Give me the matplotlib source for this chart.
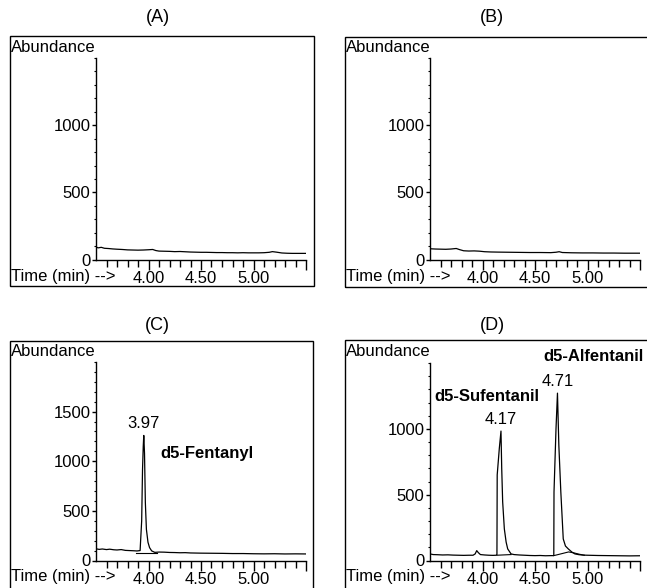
import matplotlib
matplotlib.use("Agg")
import matplotlib.pyplot as plt
from matplotlib.patches import Rectangle
from matplotlib.ticker import MultipleLocator, FixedLocator

plt.rcParams['font.family'] = ['Liberation Sans', 'DejaVu Sans']

# ---------------- data ----------------
panel_titles = ["(A)", "(B)", "(C)", "(D)"]
x_tick_values = [4.0, 4.5, 5.0]
x_tick_labels = ["4.00", "4.50", "5.00"]

time_a = [3.50, 3.52, 3.55, 3.58, 3.62, 3.66, 3.70, 3.75, 3.80, 3.85, 3.90, 3.95,
          4.00, 4.04, 4.07, 4.10, 4.15, 4.20, 4.25, 4.30, 4.35, 4.40, 4.45, 4.50,
          4.55, 4.60, 4.65, 4.70, 4.75, 4.80, 4.85, 4.90, 4.95, 5.00, 5.05, 5.10,
          5.15, 5.18, 5.22, 5.27, 5.32, 5.37, 5.42, 5.47, 5.50]
abund_a = [95, 88, 92, 85, 83, 80, 78, 76, 73, 72, 71, 72,
           74, 76, 68, 64, 63, 62, 60, 61, 59, 57, 56, 55,
           55, 54, 53, 53, 52, 52, 51, 52, 51, 51, 51, 52,
           55, 60, 56, 50, 48, 47, 47, 47, 47]

time_b = [3.50, 3.55, 3.60, 3.65, 3.70, 3.75, 3.78, 3.82, 3.87, 3.92, 3.97, 4.02,
          4.08, 4.15, 4.25, 4.35, 4.45, 4.55, 4.65, 4.70, 4.73, 4.76, 4.85, 4.95,
          5.05, 5.15, 5.25, 5.35, 5.45, 5.50]
abund_b = [80, 78, 77, 76, 78, 82, 74, 65, 63, 64, 62, 58,
           56, 55, 54, 53, 52, 52, 51, 54, 58, 52, 50, 49,
           49, 48, 48, 47, 47, 47]

time_c = [3.50, 3.53, 3.56, 3.60, 3.63, 3.67, 3.70, 3.74, 3.78, 3.82, 3.86, 3.89,
          3.92, 3.935, 3.943, 3.95, 3.955, 3.962, 3.97, 3.98, 3.995, 4.01, 4.03,
          4.06, 4.10, 4.15, 4.20, 4.25, 4.30, 4.35, 4.40, 4.45, 4.50, 4.60, 4.70,
          4.80, 4.90, 5.00, 5.10, 5.20, 5.30, 5.40, 5.50]
abund_c = [118, 112, 116, 110, 114, 108, 106, 110, 102, 100, 98, 96,
           100, 400, 914, 1150, 1260, 1080, 584, 314, 184, 130, 97,
           82, 85, 84, 81, 80, 78, 79, 76, 75, 74, 73, 72,
           70, 70, 68, 67, 68, 66, 67, 66]
c_int_time = [3.885, 4.08]
c_int_abund = [80, 80]

time_d = [3.50, 3.53, 3.57, 3.62, 3.67, 3.72, 3.77, 3.82, 3.87, 3.91, 3.93, 3.945,
          3.96, 3.98, 4.02, 4.06, 4.10, 4.13, 4.1375, 4.14, 4.16, 4.176, 4.183,
          4.192, 4.208, 4.225, 4.24, 4.272, 4.30, 4.35, 4.40, 4.45, 4.50, 4.55,
          4.60, 4.65, 4.676, 4.679, 4.681, 4.70, 4.714, 4.727, 4.746, 4.769, 4.79,
          4.817, 4.85, 4.88, 4.92, 4.96, 5.00, 5.10, 5.20, 5.30, 5.40, 5.50]
abund_d = [50, 45, 44, 42, 43, 41, 40, 39, 40, 40, 50, 75,
           60, 45, 42, 40, 39, 40, 45, 650, 850, 983, 700,
           446, 240, 140, 88, 50, 45, 42, 40, 38, 37, 38,
           36, 37, 37, 40, 520, 1000, 1271, 876, 520, 164, 110,
           88, 65, 50, 44, 41, 40, 38, 37, 36, 35, 36]
d_int1_time = [4.1375, 4.272]
d_int1_abund = [40, 45]
d_int2_time = [4.679, 4.72, 4.77, 4.82, 4.87, 4.92, 4.97]
d_int2_abund = [37, 45, 55, 65, 58, 48, 40]

peak_c_time, peak_c_abund, peak_c_label = 3.955, 1260, "3.97"
peak_d1_time, peak_d1_abund, peak_d1_label = 4.176, 983, "4.17"
peak_d2_time, peak_d2_abund, peak_d2_label = 4.714, 1271, "4.71"

# ---------------- figure ----------------
W, H = 647, 588
fig = plt.figure(figsize=(W / 100, H / 100), dpi=100)
FS = 12


def fx(px):
    return px / W


def fy(py):
    return 1 - py / H


def make_panel(box, axbox, title, title_xy, ymax, yticks):
    bl, bt, br, bb = box
    fig.patches.append(Rectangle((fx(bl), fy(bb)), fx(br - bl), (bb - bt) / H,
                                 transform=fig.transFigure, fill=False,
                                 edgecolor='black', linewidth=1.0))
    fig.text(fx(title_xy[0]), fy(title_xy[1]), title, ha='center', va='center', fontsize=13)
    fig.text(fx(bl + 1), fy(bt + 11), "Abundance", ha='left', va='center', fontsize=FS)
    al, at, ar, ab = axbox
    fig.text(fx(bl + 1), fy(ab + 16.5), "Time (min) -->", ha='left', va='center', fontsize=FS)
    ax = fig.add_axes([fx(al), fy(ab), fx(ar - al), (ab - at) / H])
    ax.set_xlim(3.5, 5.5)
    ax.set_ylim(0, ymax)
    ax.patch.set_alpha(0)
    for s in ['top', 'right']:
        ax.spines[s].set_visible(False)
    for s in ['left', 'bottom']:
        ax.spines[s].set_linewidth(1.0)
    ax.xaxis.set_major_locator(FixedLocator(x_tick_values + [5.5]))
    ax.set_xticklabels(x_tick_labels + [""])
    ax.xaxis.set_minor_locator(FixedLocator([3.6, 3.7, 3.8, 3.9, 4.1, 4.2, 4.3, 4.4,
                                             4.6, 4.7, 4.8, 4.9, 5.1, 5.2, 5.3, 5.4]))
    ax.yaxis.set_major_locator(FixedLocator(yticks))
    ax.yaxis.set_minor_locator(MultipleLocator(100))
    ax.tick_params(axis='x', which='major', length=7, width=1, pad=1, labelsize=FS)
    ax.tick_params(axis='x', which='minor', length=5, width=1)
    ax.tick_params(axis='y', which='major', length=3, width=1, pad=1, labelsize=FS)
    ax.tick_params(axis='y', which='minor', length=1.5, width=0.8)
    return ax


ax_a = make_panel((10, 36, 314, 286), (96, 58, 306, 259.7), panel_titles[0], (158, 17),
                  1500, [0, 500, 1000])
ax_b = make_panel((345, 37, 660, 287), (430, 58, 640, 259.5), panel_titles[1], (492, 17),
                  1500, [0, 500, 1000])
ax_c = make_panel((10, 341, 313, 600), (96, 362, 306, 560.5), panel_titles[2], (157, 325),
                  2000, [0, 500, 1000, 1500])
ax_d = make_panel((345, 340, 660, 600), (430, 363, 640, 560.5), panel_titles[3], (492, 325),
                  1500, [0, 500, 1000])

lw = 0.9
ax_a.plot(time_a, abund_a, color='black', lw=lw)
ax_b.plot(time_b, abund_b, color='black', lw=lw)
ax_c.plot(time_c, abund_c, color='black', lw=lw)
ax_c.plot(c_int_time, c_int_abund, color='black', lw=0.8)
ax_d.plot(time_d, abund_d, color='black', lw=lw)
ax_d.plot(d_int1_time, d_int1_abund, color='black', lw=0.8)
ax_d.plot(d_int2_time, d_int2_abund, color='black', lw=0.8)

ax_c.annotate(peak_c_label, xy=(peak_c_time, peak_c_abund), xytext=(0, 3),
              textcoords='offset points', ha='center', va='bottom', fontsize=FS)
ax_c.text(4.11, 1075, "d5-Fentanyl", ha='left', va='center', fontsize=FS,
          fontweight='bold')

ax_d.annotate(peak_d1_label, xy=(peak_d1_time, peak_d1_abund), xytext=(0, 3),
              textcoords='offset points', ha='center', va='bottom', fontsize=FS)
ax_d.annotate(peak_d2_label, xy=(peak_d2_time, peak_d2_abund), xytext=(0, 3),
              textcoords='offset points', ha='center', va='bottom', fontsize=FS)
ax_d.text(3.54, 1248, "d5-Sufentanil", ha='left', va='center', fontsize=FS,
          fontweight='bold', clip_on=False)
ax_d.text(4.577, 1553, "d5-Alfentanil", ha='left', va='center', fontsize=FS,
          fontweight='bold', clip_on=False)

fig.savefig("out.png", dpi=100)
